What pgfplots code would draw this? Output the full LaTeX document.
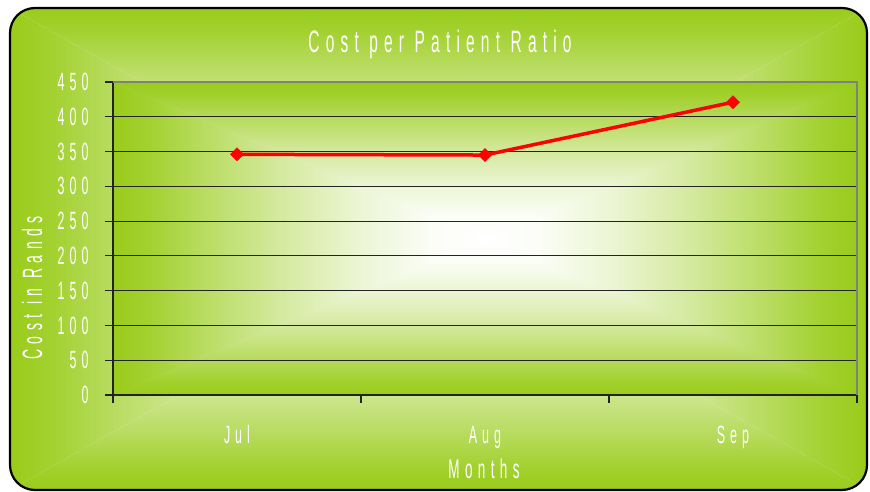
\documentclass[border=0pt]{standalone}
\usepackage{pgfplots}
\pgfplotsset{compat=1.18}
\usepackage{fontspec}
\newfontfamily\cf{Liberation Sans}[FakeStretch=0.5,LetterSpace=20]

\definecolor{gA}{RGB}{153,204,26}
\definecolor{gridc}{RGB}{35,35,35}

% "from centre" gradient pieces: 25bp = centre, 75bp = edge
\pgfdeclareverticalshading{gV}{100bp}{color(0bp)=(white); color(25bp)=(white); color(32.5bp)=(white!96!gA); color(42.5bp)=(white!80!gA); color(52.5bp)=(white!58!gA); color(62.5bp)=(white!32!gA); color(70bp)=(white!10!gA); color(75bp)=(gA); color(100bp)=(gA)}
\pgfdeclareverticalshading{gVr}{100bp}{color(0bp)=(gA); color(25bp)=(gA); color(30bp)=(white!10!gA); color(37.5bp)=(white!32!gA); color(47.5bp)=(white!58!gA); color(57.5bp)=(white!80!gA); color(67.5bp)=(white!96!gA); color(75bp)=(white); color(100bp)=(white)}
\pgfdeclarehorizontalshading{gH}{100bp}{color(0bp)=(white); color(25bp)=(white); color(32.5bp)=(white!96!gA); color(42.5bp)=(white!80!gA); color(52.5bp)=(white!58!gA); color(62.5bp)=(white!32!gA); color(70bp)=(white!10!gA); color(75bp)=(gA); color(100bp)=(gA)}
\pgfdeclarehorizontalshading{gHr}{100bp}{color(0bp)=(gA); color(25bp)=(gA); color(30bp)=(white!10!gA); color(37.5bp)=(white!32!gA); color(47.5bp)=(white!58!gA); color(57.5bp)=(white!80!gA); color(67.5bp)=(white!96!gA); color(75bp)=(white); color(100bp)=(white)}

% x0,y0,x1,y1,cx,cy (bp)
\newcommand\rectgrad[6]{%
  \shade[shading=gV] (#1bp,#4bp) -- (#3bp,#4bp) -- (#5bp,#6bp) -- cycle;
  \shade[shading=gVr] (#1bp,#2bp) -- (#3bp,#2bp) -- (#5bp,#6bp) -- cycle;
  \shade[shading=gH] (#3bp,#2bp) -- (#3bp,#4bp) -- (#5bp,#6bp) -- cycle;
  \shade[shading=gHr] (#1bp,#2bp) -- (#1bp,#4bp) -- (#5bp,#6bp) -- cycle;
}

\begin{document}
\begin{tikzpicture}
\fill[white] (0,0) rectangle (870bp,492bp);
\begin{scope}
  \clip[rounded corners=25bp] (10bp,2bp) rectangle (867bp,484bp);
  \rectgrad{10}{2}{867}{484}{438.5}{243}
\end{scope}
\draw[black,line width=2.2bp,rounded corners=25bp] (10bp,2bp) rectangle (867bp,484bp);
\rectgrad{113}{97}{857}{410}{485}{253.5}

\begin{axis}[
  at={(113bp,97bp)}, anchor=south west,
  scale only axis, width=744bp, height=313bp,
  xmin=-0.5, xmax=2.5, ymin=0, ymax=450,
  axis x line*=bottom, axis y line*=left,
  axis line style={gridc,line width=1.2bp},
  xtick={0,1,2}, xticklabels={Jul,Aug,Sep},
  major x tick style={draw=none},
  minor xtick={-0.5,0.5,1.5,2.5},
  minor x tick style={gridc,line width=1.2bp},
  ytick={0,50,...,450},
  y tick style={gridc,line width=1.2bp},
  tick align=outside, major tick length=8bp, minor tick length=8bp,
  ymajorgrids, grid style={gridc,line width=1.2bp},
  /pgf/number format/assume math mode=true,
  ticklabel style={text=white,font=\cf\fontsize{25bp}{30bp}\selectfont},
  yticklabel style={anchor=east,xshift=-13bp},
  xticklabel style={anchor=base,yshift=-41bp},
  clip=false,
]
\draw[gray,line width=1.6bp] (rel axis cs:0,1) -- (rel axis cs:1,1) -- (rel axis cs:1,0);
\addplot[red,line width=3.5bp,mark=square*,mark size=4.6bp,mark options={rotate=45,fill=red,draw=red,line width=0.5bp}]
  coordinates {(0,346) (1,345) (2,421)};
\end{axis}

\node[anchor=base,text=white,font=\cf\fontsize{31bp}{36bp}\selectfont] at (440bp,439bp) {Cost per Patient Ratio};
\node[anchor=base,rotate=90,text=white,font=\cf\fontsize{28bp}{34bp}\selectfont] at (42bp,204bp) {Cost in Rands};
\node[anchor=base,text=white,font=\cf\fontsize{27bp}{32bp}\selectfont] at (484bp,14bp) {Months};
\end{tikzpicture}
\end{document}
